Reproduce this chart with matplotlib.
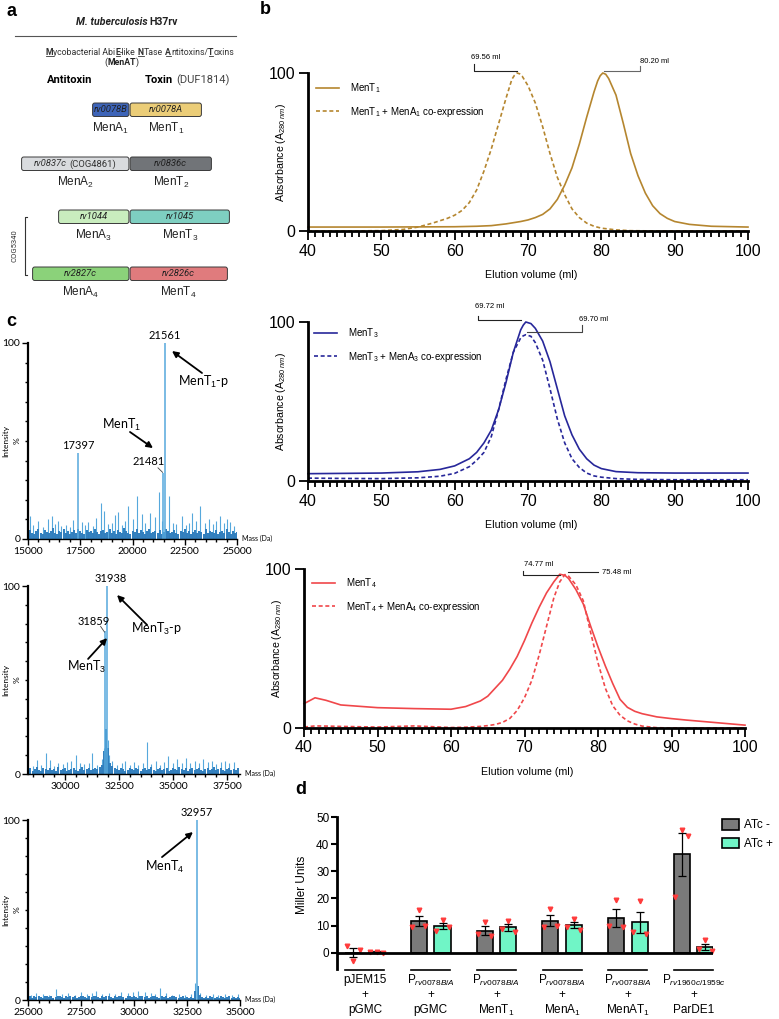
import numpy as np
import matplotlib
matplotlib.use('Agg')
import matplotlib.pyplot as plt
from matplotlib.patches import FancyBboxPatch, Patch
from matplotlib.ticker import MultipleLocator

plt.rcParams['font.family'] = ['Liberation Sans', 'DejaVu Sans']
plt.rcParams['mathtext.fontset'] = 'custom'
plt.rcParams['mathtext.rm'] = 'Liberation Sans'
plt.rcParams['mathtext.it'] = 'Liberation Sans:italic'
plt.rcParams['mathtext.bf'] = 'Liberation Sans:bold'

# ------------------------------------------------------------------ data
# panel a
antitoxin_genes = ['rv0078B', 'rv0837c', 'rv1044', 'rv2827c']
toxin_genes = ['rv0078A', 'rv0836c', 'rv1045', 'rv2826c']
antitoxin_names = ['MenA$_1$', 'MenA$_2$', 'MenA$_3$', 'MenA$_4$']
toxin_names = ['MenT$_1$', 'MenT$_2$', 'MenT$_3$', 'MenT$_4$']

# panel b : size-exclusion chromatograms (elution ml, % absorbance)
b1_x = [40, 45, 50, 55, 60, 63, 65, 67, 69, 70, 71, 72, 73, 74, 75, 76, 77, 78, 79,
        79.5, 79.85, 80.2, 80.6, 81, 82, 83, 84, 85, 86, 87, 88, 89, 90, 92, 95, 100]
b1_menT = [2.5, 2.5, 2.5, 2.6, 2.7, 3.0, 3.4, 4.5, 6.0, 7.0, 8.5, 10.5, 14, 20, 29, 40, 55, 72, 88,
           95, 98.3, 100, 99.2, 96.5, 86, 68, 49, 35, 24, 16, 11, 8, 6, 4.2, 3.0, 2.5]
b1_xc = [40, 45, 50, 53, 55, 57, 59, 60, 61, 62, 63, 64, 65, 66, 67, 67.8, 68.15, 68.5, 68.85,
         69.2, 70, 71, 72, 73, 74, 75, 76, 77, 78, 79, 80, 82, 84, 88, 100]
b1_co = [0, 0, 0.2, 1, 2.5, 5, 8, 10, 13, 18, 26, 38, 52, 68, 84, 96, 98.5, 100, 99.5,
         98, 92, 81, 66, 49, 34, 23, 14, 8.5, 5, 3, 1.8, 0.7, 0.2, 0, 0]

b2_x = [40, 45, 50, 55, 58, 60, 62, 63, 64, 65, 66, 67, 68, 69, 69.35, 69.7, 70.4, 71, 72, 73,
        74, 75, 76, 77, 78, 79, 80, 82, 85, 90, 100]
b2_menT = [4.6, 4.8, 5.0, 5.8, 7.3, 9.5, 14, 18, 24, 32, 45, 62, 81, 95, 98, 100, 99, 96, 88, 75,
           58, 41, 29, 20, 14, 10, 7.8, 5.9, 5.2, 5.0, 5.0]
b2_co = [1.8, 1.6, 1.5, 2.0, 3.0, 4.8, 9, 13, 18, 28, 45, 64, 81, 90, 91.3, 92, 91, 87, 76, 58,
         39, 24, 14, 8.5, 5, 3.2, 2.4, 1.5, 1.0, 0.8, 0.8]

b3_x = [40, 41.5, 43, 45, 50, 55, 60, 62, 64, 65, 66, 67, 68, 69, 70, 71, 72, 73, 74, 74.8,
        75.5, 76, 77, 78, 79, 80, 81, 82, 83, 84, 85, 86, 88, 90, 92, 95, 100]
b3_menT = [15.3, 19, 17.4, 14.5, 12.8, 12.2, 11.8, 13.5, 17, 20, 25, 30, 37, 45, 55, 66, 76, 85, 92, 96.7,
           96, 94, 87, 78, 64, 51, 39, 28, 18, 13, 10.5, 9, 7, 5.9, 5, 3.8, 1.8]
b3_co = [0.6, 1.3, 1.2, 1.0, 0.6, 1.3, 0.3, 0.5, 1.0, 1.5, 2.2, 3.5, 6, 11, 19, 30, 46, 64, 82, 92,
         96.5, 95.5, 90, 80, 60, 41, 25, 14, 8, 4.5, 2.5, 1.2, 0.2, 0, 0, 0, 0]

b_peak_labels = [['69.56 ml', '80.20 ml'], ['69.72 ml', '69.70 ml'], ['74.77 ml', '75.48 ml']]

# panel c : deconvoluted mass spectra (Da, % intensity)
c1_base_start, c1_base = 15000, [
    3.5, 4.5, 3.0, 2.5, 4.0, 5.0, 3.0, 2.5, 4.5, 3.5, 3.0, 4.0, 5.5, 3.0, 2.5, 4.0, 3.5, 5.0, 3.0, 4.0,
    2.5, 3.5, 4.5, 3.0, 5.0, 4.0, 3.0, 2.5, 4.5, 3.5, 4.0, 3.0, 5.0, 3.5, 2.5, 4.0, 4.5, 3.0, 3.5, 5.0,
    3.0, 4.0, 2.5, 4.5, 3.5, 3.0, 5.5, 4.0, 3.0, 2.5, 4.0, 3.5, 5.0, 3.0, 4.5, 3.5, 2.5, 4.0, 5.0, 3.0,
    3.5, 4.0, 3.0, 4.5, 2.5, 3.5, 5.0, 4.0, 3.0, 3.5, 4.5, 3.0, 2.5, 4.0, 3.5, 5.0, 3.0, 4.0, 2.5, 3.5,
    4.5, 3.0, 4.0, 3.5, 2.5, 5.0, 3.0, 4.0, 3.5, 3.0, 4.5, 2.5, 3.5, 4.0, 3.0, 5.0, 3.5, 2.5, 4.0, 3.0, 3.5]
c1_spike_mass = [15110, 15250, 15480, 15700, 15960, 16150, 16300, 16440, 16600, 16800, 17000, 17160,
                 17590, 17750, 17880, 18100, 18250, 18470, 18630, 18850, 19000, 19160, 19320, 19500,
                 19650, 19800, 20000, 20230, 20440, 20600, 20840, 21080, 21270, 21400, 21760, 21950,
                 22100, 22350, 22550, 22700, 22840, 23050, 23240, 23450, 23640, 23850, 24000, 24200,
                 24380, 24520, 24680, 24850]
c1_spike_int = [11.5, 7, 9, 6, 10, 11.5, 7.5, 9, 6.5, 7, 6, 9.5,
                8.5, 7, 8.5, 6.5, 10.5, 18.5, 14.5, 7.5, 8, 12, 14, 7,
                9, 17, 10, 22, 13, 8, 13.5, 11, 24, 9, 22, 8,
                7.5, 11.5, 7, 8, 13.5, 9, 17, 8, 10, 7.5, 9, 11.5,
                8, 10, 8.5, 6.5]
c1_peak_mass = [17397, 21481, 21561]
c1_peak_int = [44, 33.5, 100]

c2_base_start, c2_base = 28300, [
    2.0, 3.0, 1.5, 2.5, 3.5, 2.0, 1.5, 3.0, 2.5, 2.0, 3.0, 2.0, 2.5, 1.5, 3.5, 2.0, 2.5, 3.0, 1.5, 2.0,
    2.5, 3.0, 2.0, 1.5, 2.5, 3.5, 2.0, 2.5, 3.0, 2.0, 2.5, 3.0, 2.5, 3.5, 5.0, 12.0, 24.0, 14.0, 6.0, 4.0,
    3.0, 2.5, 2.0, 3.0, 2.5, 1.5, 2.0, 3.0, 2.5, 2.0, 3.0, 2.5, 1.5, 2.5, 3.0, 2.0, 2.5, 3.5, 2.0, 1.5,
    2.5, 3.0, 2.0, 2.5, 3.0, 1.5, 2.0, 3.0, 2.5, 2.0, 3.5, 2.5, 2.0, 3.0, 1.5, 2.5, 3.0, 2.0, 2.5, 3.0,
    2.0, 1.5, 2.5, 3.0, 2.0, 2.5, 3.5, 2.0, 2.5, 3.0, 2.0, 1.5, 2.5, 3.0, 2.0, 2.5, 2.0, 3.0]
c2_spike_mass = [28500, 28700, 28900, 29110, 29300, 29500, 29700, 29900, 30100, 30300, 30510, 30700,
                 30900, 31100, 31270, 31500, 31700, 31800, 31880, 31990, 32050, 32200, 32400, 32650,
                 32800, 33000, 33200, 33400, 33600, 33780, 34000, 34200, 34400, 34600, 34790, 35000,
                 35200, 35400, 35600, 35800, 36000, 36200, 36400, 36600, 36800, 37000, 37200, 37400,
                 37600, 37800]
c2_spike_int = [4.5, 7.5, 5, 11, 7.5, 4.5, 6, 5.5, 6.5, 7, 10, 6,
                5.5, 6, 11, 5, 8, 14, 22, 18, 10, 7, 5, 6,
                7, 5, 6.5, 5, 6, 17, 5.5, 7, 5, 6.5, 9.5, 6,
                8, 6, 8.5, 6, 7, 6, 8, 6.5, 7, 5.5, 6.5, 7,
                6, 6.5]
c2_peak_mass = [31859, 31938]
c2_peak_int = [76, 100]

c3_base_start, c3_base = 25000, [
    1.5, 2.0, 1.0, 2.5, 1.5, 2.0, 1.5, 1.0, 2.0, 2.5, 1.5, 2.0, 1.0, 1.5, 2.5, 2.0, 1.5, 1.0, 2.0, 1.5,
    2.5, 1.5, 2.0, 1.0, 1.5, 2.0, 2.5, 1.5, 1.0, 2.0, 1.5, 2.0, 2.5, 1.5, 1.0, 2.0, 1.5, 2.5, 2.0, 1.5,
    1.0, 2.0, 1.5, 2.5, 2.0, 1.5, 1.0, 2.0, 2.5, 1.5, 2.0, 1.5, 1.0, 2.0, 2.5, 1.5, 2.0, 1.0, 1.5, 2.0,
    2.5, 1.5, 1.0, 2.0, 1.5, 2.0, 1.0, 1.5, 2.5, 2.0, 1.5, 1.0, 1.5, 2.0, 1.0, 1.5, 1.0, 1.5, 1.0, 5.0,
    8.0, 3.0, 1.5, 1.0, 1.5, 1.0, 2.0, 1.5, 1.0, 1.5, 1.0, 2.0, 1.5, 1.0, 1.5, 2.0, 1.0, 1.5, 1.0, 1.5, 1.0]
c3_spike_mass = [25150, 25400, 25700, 26000, 26340, 26600, 26900, 27200, 27500, 27800, 28000, 28230,
                 28500, 28800, 29100, 29400, 29700, 29960, 30200, 30500, 30800, 31000, 31220, 31500,
                 31800, 32100, 32400, 32700, 32900, 33100, 33400, 33740, 33980, 34300, 34600, 34900]
c3_spike_int = [3, 4, 3.5, 3, 6, 3.5, 4, 3, 4.5, 3.5, 4, 5,
                3.5, 4, 3.5, 4.5, 4, 4.5, 5, 4.5, 4, 3.5, 6.5, 4,
                3, 3.5, 3, 3.5, 9.5, 4, 3, 3.5, 3, 3.5, 3, 3.5]
c3_peak_mass = [32957]
c3_peak_int = [100]

# panel d : beta-galactosidase (Miller units), three replicates
d_groups_top = ['pJEM15', 'P$_{\\mathit{rv0078B/A}}$', 'P$_{\\mathit{rv0078B/A}}$',
                'P$_{\\mathit{rv0078B/A}}$', 'P$_{\\mathit{rv0078B/A}}$', 'P$_{\\mathit{rv1960c/1959c}}$']
d_groups_bottom = ['pGMC', 'pGMC', 'MenT$_1$', 'MenA$_1$', 'MenAT$_1$', 'ParDE1']
d_atc_minus = [[2.3, -3.1, 0.9], [9.4, 15.6, 10.0], [6.9, 11.25, 6.25],
               [9.4, 16.0, 10.0], [9.9, 19.6, 9.4], [20.6, 45.3, 43.1]]
d_atc_plus = [[0.1, 0.2, 0.0], [8.1, 11.9, 9.4], [8.8, 11.6, 7.5],
              [9.6, 12.5, 8.5], [7.5, 19.1, 7.0], [1.25, 4.6, 0.5]]
d_legend = ['ATc -', 'ATc +']

# ------------------------------------------------------------------ figure
W, H = 779, 1019
fig = plt.figure(figsize=(W / 100, H / 100), dpi=100)


def px_axes(l, t, r, b):
    ax = fig.add_axes([l / W, 1 - b / H, (r - l) / W, (b - t) / H])
    ax.patch.set_alpha(0)
    return ax


ov = fig.add_axes([0, 0, 1, 1], zorder=10)
ov.set_xlim(0, W)
ov.set_ylim(H, 0)
ov.axis('off')
renderer = fig.canvas.get_renderer()


def piece_width(s, **kw):
    t = ov.text(0, 0, '|' + s + '|', **kw)
    t2 = ov.text(0, 0, '||', **kw)
    w = t.get_window_extent(renderer).width - t2.get_window_extent(renderer).width
    t.remove()
    t2.remove()
    return w


def rich(x, y, pieces, ha='center', ucolor='#333333', uoff=4.3, **common):
    widths = [piece_width(s, **{**common, **kw}) for s, kw, u in pieces]
    x0 = x - sum(widths) / 2 if ha == 'center' else x
    for (s, kw, u), w in zip(pieces, widths):
        if s.strip():
            ov.text(x0, y, s, ha='left', va='center', **{**common, **kw})
        if u:
            ov.plot([x0 + 0.3, x0 + w - 0.3], [y + uoff, y + uoff], color=ucolor, lw=0.6)
        x0 += w


# panel letters
for lab, (x, y) in zip('abcd', [(12, 11), (265, 9), (11, 322), (301, 790)]):
    ov.text(x, y, lab, fontsize=13, fontweight='bold', ha='center', va='center')

# ------------------------------------------------------------------ panel a
RB = 'Roboto'
BOLD = dict(fontweight='bold')
NORM = dict()
SP = (' ', NORM, False)
rich(127, 22, [('M. tuberculosis', dict(fontweight='bold', fontstyle='italic'), False), SP,
               ('H37rv', BOLD, False)], family=RB, fontsize=7.6, color='#222222')
ov.plot([15, 236], [36, 36], color='#555555', lw=0.8)
rich(140, 52, [('M', BOLD, True), ('ycobacterial Abi', NORM, False), ('E', BOLD, True),
               ('-like', NORM, False), SP, ('N', BOLD, True), ('Tase', NORM, False), SP,
               ('A', BOLD, True), ('ntitoxins/', NORM, False), ('T', BOLD, True), ('oxins', NORM, False)],
     family=RB, fontsize=6.3, color='#333333')
rich(122, 62, [('(', NORM, False), ('MenAT', BOLD, False), (')', NORM, False)],
     family=RB, fontsize=6.3, color='#222222')
ov.text(70, 80, 'Antitoxin', family=RB, fontsize=8, fontweight='bold', ha='center', va='center')
rich(145, 80, [('Toxin', BOLD, False), SP, ('(DUF1814)', dict(color='#444444'), False)], ha='left',
     family=RB, fontsize=8)

row_tops = [103, 157, 210, 267]
at_left = [92, 21, 58, 32]
tx_right = [202, 212, 230, 228]
mid = 129.5
box_h = 13.5
at_colors = ['#3D64B8', '#D9DBDE', '#C9EDBE', '#8BD27A']
tx_colors = ['#EBCD78', '#717478', '#7ECFC1', '#E07B7D']
for i in range(4):
    for (x0, x1), fc in [((at_left[i], mid), at_colors[i]), ((mid, tx_right[i]), tx_colors[i])]:
        ov.add_patch(FancyBboxPatch((x0 + 0.6, row_tops[i]), x1 - x0 - 1.2, box_h,
                                    boxstyle='round,pad=0,rounding_size=2.2',
                                    fc=fc, ec='#3a3a3a', lw=0.7))
    yc = row_tops[i] + box_h / 2
    if antitoxin_genes[i] == 'rv0837c':
        rich((at_left[i] + mid) / 2, yc, [(antitoxin_genes[i], dict(fontstyle='italic'), False), SP,
                                          ('(COG4861)', NORM, False)], family=RB, fontsize=6.8,
             color='#333333')
    else:
        ov.text((at_left[i] + mid) / 2, yc, antitoxin_genes[i], family=RB, fontsize=6.8,
                fontstyle='italic', ha='center', va='center', color='#222222')
    ov.text((mid + tx_right[i]) / 2, yc, toxin_genes[i], family=RB, fontsize=6.8,
            fontstyle='italic', ha='center', va='center', color='#222222')
    ov.text((at_left[i] + mid) / 2, row_tops[i] + 25, antitoxin_names[i], fontsize=8.5,
            ha='center', va='center', color='#222222')
    ov.text((mid + tx_right[i]) / 2, row_tops[i] + 25, toxin_names[i], fontsize=8.5,
            ha='center', va='center', color='#222222')

ov.plot([27.5, 25, 25, 27.5], [217, 217, 275, 275], color='#333333', lw=0.8)
ov.text(15, 246, 'COG5340', family=RB, fontsize=5.5, rotation=90, ha='center', va='center',
        color='#333333')

# ------------------------------------------------------------------ panel b
def chrom(rect, x, y1, y2, color, labels, leg_xy, ylab_x):
    ax = px_axes(*rect)
    ax.plot(x[0], y1, color=color, lw=1.2, clip_on=False)
    ax.plot(x[1], y2, color=color, lw=1.2, ls=(0, (2.4, 1.6)), clip_on=False)
    ax.set_xlim(40, 100)
    ax.set_ylim(0, 100)
    ax.set_xticks(range(40, 101, 10))
    ax.xaxis.set_minor_locator(MultipleLocator(1))
    ax.set_yticks([0, 100])
    ax.tick_params(which='major', length=6.5, width=1.3, labelsize=11.5, pad=2.5)
    ax.tick_params(axis='x', which='minor', length=4, width=1.3)
    for s in ['top', 'right']:
        ax.spines[s].set_visible(False)
    for s in ['left', 'bottom']:
        ax.spines[s].set_linewidth(2)
    ax.legend(labels, loc='upper left', bbox_to_anchor=(leg_xy[0] / W, 1 - leg_xy[1] / H),
              bbox_transform=fig.transFigure, frameon=False, fontsize=7, handlelength=2.4,
              handletextpad=1.1, labelspacing=1.0, borderpad=0, borderaxespad=0)
    l, t, r, b = rect
    ov.text((l + r) / 2 + 3, b + 44, 'Elution volume (ml)', fontsize=7.7, ha='center', va='center')
    ov.text(ylab_x, (t + b) / 2, 'Absorbance (A$_{280\\ nm}$)', fontsize=7.6, rotation=90,
            ha='center', va='center')
    return ax


def bracket(ax, xs, ys, color='#222222'):
    ax.plot(xs, ys, color=color, lw=0.8, clip_on=False)


axb1 = chrom((308, 73, 748, 231), (b1_x, b1_xc), b1_menT, b1_co, '#B5862F',
             ['MenT$_1$', 'MenT$_1$ + MenA$_1$ co-expression'], (316, 81), 281)
bracket(axb1, [62.65, 62.65, 68.5], [105.5, 101.3, 101.3])
axb1.text(64.2, 109.5, b_peak_labels[0][0], fontsize=5.5, ha='center', va='center')
bracket(axb1, [80.3, 85.3, 85.3], [101.3, 101.3, 104.2], '#666666')
axb1.text(87.2, 107, b_peak_labels[0][1], fontsize=5.5, ha='center', va='center')

axb2 = chrom((308, 322, 748, 481), (b2_x, b2_x), b2_menT, b2_co, '#27279A',
             ['MenT$_3$', 'MenT$_3$ + MenA$_3$ co-expression'], (314, 326), 281)
bracket(axb2, [63.2, 63.2, 69.1], [103.6, 101, 101])
axb2.text(64.8, 109.5, b_peak_labels[1][0], fontsize=5.5, ha='center', va='center')
bracket(axb2, [69.8, 77.3, 77.3], [93.7, 93.7, 98.3], '#444444')
axb2.text(79.0, 101.5, b_peak_labels[1][1], fontsize=5.5, ha='center', va='center')

axb3 = chrom((304, 569, 745, 728), (b3_x, b3_x), b3_menT, b3_co, '#F0474A',
             ['MenT$_4$', 'MenT$_4$ + MenA$_4$ co-expression'], (312, 576), 277)
bracket(axb3, [69.8, 69.8, 74.8], [98.5, 96.4, 96.4])
axb3.text(71.9, 102.7, b_peak_labels[2][0], fontsize=5.5, ha='center', va='center')
bracket(axb3, [75.9, 80.0], [97.8, 97.8])
axb3.text(80.5, 97.8, b_peak_labels[2][1], fontsize=5.5, ha='left', va='center')

# ------------------------------------------------------------------ panel c
LIGHT = '#56A8DC'
DARK = '#2F7DBD'
LF = 'Lato'


def spectrum(rect, xlim, base_start, base, sm, si, pm, pi, majors):
    ax = px_axes(*rect)
    mb = base_start + 100 * np.arange(len(base))
    ax.vlines(sm, 0, si, color=LIGHT, lw=0.8)
    ax.vlines(mb, 0, base, color=DARK, lw=1.4)
    ax.vlines(pm, 0, pi, color=LIGHT, lw=1.1)
    ax.set_xlim(*xlim)
    ax.set_ylim(0, 100)
    ax.set_xticks(majors)
    ax.set_xticklabels([str(m) for m in majors], family=LF, fontsize=7.5)
    ax.xaxis.set_minor_locator(MultipleLocator(500))
    ax.set_yticks([0, 100])
    ax.set_yticklabels(['0', '100'], family=LF, fontsize=7.5)
    ax.yaxis.set_minor_locator(MultipleLocator(10))
    ax.tick_params(which='major', length=4, width=1.0, pad=1.5)
    ax.tick_params(which='minor', length=2.5, width=1.0)
    for s in ['top', 'right']:
        ax.spines[s].set_visible(False)
    ax.spines['left'].set_linewidth(1.6)
    ax.spines['bottom'].set_linewidth(1.0)
    l, t, r, b = rect
    ov.text(r + 5, b - 1, 'Mass (Da)', family=LF, fontsize=5, ha='left', va='center')
    ov.text(17, (t + b) / 2, '%', family=LF, fontsize=6, rotation=90, ha='center', va='center')
    ov.text(6, (t + b) / 2, 'Intensity', family=LF, fontsize=6, rotation=90, ha='center',
            va='center')
    return ax


def arrow(ax, head, tail):
    ax.annotate('', xy=head, xytext=tail, annotation_clip=False,
                arrowprops=dict(arrowstyle='-|>', lw=1.3, color='black', mutation_scale=9,
                                shrinkA=0, shrinkB=0))


axc1 = spectrum((28, 343, 237, 539), (15000, 25000), c1_base_start, c1_base, c1_spike_mass,
                c1_spike_int, c1_peak_mass, c1_peak_int, [15000, 17500, 20000, 22500, 25000])
axc1.text(c1_peak_mass[0], c1_peak_int[0] + 1, str(c1_peak_mass[0]), family=LF, fontsize=8,
          ha='center', va='bottom', clip_on=False)
axc1.text(c1_peak_mass[2], c1_peak_int[2] + 1, str(c1_peak_mass[2]), family=LF, fontsize=8,
          ha='center', va='bottom', clip_on=False)
axc1.text(20750, 39.5, str(c1_peak_mass[1]), family=LF, fontsize=8, ha='center', va='center')
axc1.plot([21220, 21440], [36.3, 34.0], color='#444444', lw=0.6)
axc1.text(19500, 58, 'MenT$_1$', family=LF, fontsize=9, ha='center', va='center')
arrow(axc1, (20980, 46.4), (19880, 54.6))
axc1.text(23420, 80, 'MenT$_1$-p', family=LF, fontsize=9, ha='center', va='center',
          clip_on=False)
arrow(axc1, (21890, 95.9), (23325, 84.7))

axc2 = spectrum((28, 586, 240, 774), (28290, 38100), c2_base_start, c2_base, c2_spike_mass,
                c2_spike_int, c2_peak_mass, c2_peak_int, [30000, 32500, 35000, 37500])
axc2.text(c2_peak_mass[1] + 200, 101, str(c2_peak_mass[1]), family=LF, fontsize=8, ha='center',
          va='bottom', clip_on=False)
axc2.text(31350, 81, str(c2_peak_mass[0]), family=LF, fontsize=8, ha='center', va='center')
axc2.plot([31650, 31830], [78.5, 75.5], color='#444444', lw=0.6)
axc2.text(34260, 77, 'MenT$_3$-p', family=LF, fontsize=9, ha='center', va='center')
arrow(axc2, (32410, 95.2), (33800, 79.3))
axc2.text(31020, 57, 'MenT$_3$', family=LF, fontsize=9, ha='center', va='center')
arrow(axc2, (31950, 72.3), (31070, 61.2))

axc3 = spectrum((28, 820, 240, 1000), (25000, 35000), c3_base_start, c3_base, c3_spike_mass,
                c3_spike_int, c3_peak_mass, c3_peak_int, [25000, 27500, 30000, 32500, 35000])
axc3.text(c3_peak_mass[0], 101, str(c3_peak_mass[0]), family=LF, fontsize=8, ha='center',
          va='bottom', clip_on=False)
axc3.text(31460, 74, 'MenT$_4$', family=LF, fontsize=9, ha='center', va='center')
arrow(axc3, (32780, 93.3), (31320, 79.4))

# ------------------------------------------------------------------ panel d
GREY = '#7A7A7A'
GREEN = '#70F5C6'
axd = px_axes(337, 817, 713, 969)
axd.set_xlim(-0.426, 5.297)
axd.set_ylim(-6, 50)
off = 0.18
bw = 0.245
jit = [-0.1, 0.0, 0.1]
for series, sign, col in [(d_atc_minus, -1, GREY), (d_atc_plus, 1, GREEN)]:
    arr = np.array(series)
    means = arr.mean(axis=1)
    sems = arr.std(axis=1, ddof=1) / np.sqrt(arr.shape[1])
    pos = np.arange(len(series)) + sign * off
    axd.bar(pos, means, width=bw, color=col, edgecolor='black', lw=1.2, zorder=2)
    for p, reps in zip(pos, series):
        axd.plot(p + np.array(jit), reps, ls='none', marker='v', ms=3.3, color='#FF3B3B',
                 zorder=3, clip_on=False)
    axd.errorbar(pos, means, yerr=sems, fmt='none', ecolor='black', elinewidth=0.9,
                 capsize=3.2, capthick=0.9, zorder=4)
axd.axhline(0, color='black', lw=2, zorder=5)
axd.set_yticks(range(0, 51, 10))
axd.set_xticks([])
axd.tick_params(axis='y', length=4, width=1.5, labelsize=8.5, pad=1.5)
for s in ['top', 'right', 'bottom']:
    axd.spines[s].set_visible(False)
axd.spines['left'].set_linewidth(2)
axd.spines['left'].set_bounds(-6, 50)
ov.text(302, 885, 'Miller Units', fontsize=8.5, rotation=90, ha='center', va='center')
axd.legend(handles=[Patch(fc=GREY, ec='black', lw=1.2), Patch(fc=GREEN, ec='black', lw=1.2)],
           labels=d_legend, loc='upper left', bbox_to_anchor=(722 / W, 1 - 819 / H),
           bbox_transform=fig.transFigure, frameon=False, fontsize=8.5, handlelength=1.45,
           handleheight=1.0, handletextpad=0.45, labelspacing=0.55, borderpad=0, borderaxespad=0)
for g, (top, bot) in enumerate(zip(d_groups_top, d_groups_bottom)):
    xd = axd.transData.transform((g, 0))[0]
    ov.plot([xd - 19.5, xd + 19.5], [970, 970], color='black', lw=1.2)
    ov.text(xd, 980, top, fontsize=8.5, ha='center', va='center')
    ov.text(xd, 995, '+', fontsize=8.5, ha='center', va='center')
    ov.text(xd, 1010, bot, fontsize=8.5, ha='center', va='center')

fig.savefig('out.png', dpi=100)
